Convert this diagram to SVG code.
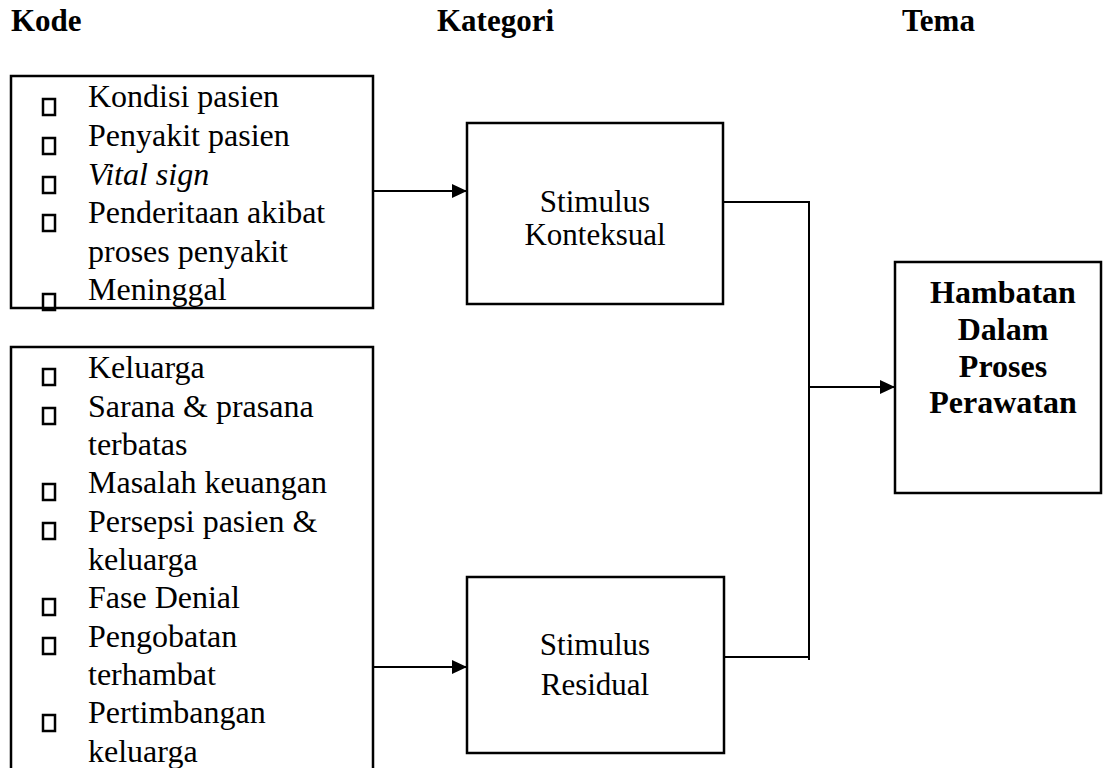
<svg xmlns="http://www.w3.org/2000/svg" width="1105" height="768" viewBox="0 0 1105 768">
<style>
text{font-family:"Liberation Serif","Times New Roman",serif;font-size:31px;fill:#000}
.l{font-size:32px}
.h{font-weight:bold}
.hb{font-weight:bold;font-size:32px}
.it{font-style:italic}
.c{text-anchor:middle}
.box{fill:none;stroke:#000;stroke-width:2.5}
.bul{fill:none;stroke:#000;stroke-width:2.5}
.ln{fill:none;stroke:#000;stroke-width:2}
</style>
<defs>
<marker id="arr" markerWidth="16" markerHeight="14" refX="15" refY="7" orient="auto" markerUnits="userSpaceOnUse">
<path d="M0,0 L15,7 L0,14 Z" fill="#000"/>
</marker>
</defs>
<g id="headings">
<text class="h" x="11" y="31">Kode</text>
<text class="h" x="437" y="31">Kategori</text>
<text class="h" x="902" y="31">Tema</text>
</g>
<g id="kode1">
<rect class="box" x="11" y="76" width="362" height="232"/>
<rect class="bul" x="43" y="99" width="12" height="16"/>
<rect class="bul" x="43" y="138" width="12" height="16"/>
<rect class="bul" x="43" y="177" width="12" height="16"/>
<rect class="bul" x="43" y="215" width="12" height="16"/>
<rect class="bul" x="43" y="294" width="12" height="16"/>
<text class="l" x="88" y="107">Kondisi pasien</text>
<text class="l" x="88" y="146">Penyakit pasien</text>
<text class="l it" x="88" y="185">Vital sign</text>
<text class="l" x="88" y="223">Penderitaan akibat</text>
<text class="l" x="88" y="262">proses penyakit</text>
<text class="l" x="88" y="300">Meninggal</text>
</g>
<g id="kode2">
<path class="box" d="M11,770 V347 H373 V770"/>
<rect class="bul" x="43" y="369" width="12" height="16"/>
<rect class="bul" x="43" y="408" width="12" height="16"/>
<rect class="bul" x="43" y="484" width="12" height="16"/>
<rect class="bul" x="43" y="523" width="12" height="16"/>
<rect class="bul" x="43" y="599" width="12" height="16"/>
<rect class="bul" x="43" y="638" width="12" height="16"/>
<rect class="bul" x="43" y="715" width="12" height="16"/>
<text class="l" x="88" y="378">Keluarga</text>
<text class="l" x="88" y="417">Sarana &amp; prasana</text>
<text class="l" x="88" y="455">terbatas</text>
<text class="l" x="88" y="493">Masalah keuangan</text>
<text class="l" x="88" y="532">Persepsi pasien &amp;</text>
<text class="l" x="88" y="570">keluarga</text>
<text class="l" x="88" y="608">Fase Denial</text>
<text class="l" x="88" y="647">Pengobatan</text>
<text class="l" x="88" y="685">terhambat</text>
<text class="l" x="88" y="723">Pertimbangan</text>
<text class="l" x="88" y="762">keluarga</text>
</g>
<g id="konteksual">
<rect class="box" x="467" y="123" width="256" height="181"/>
<text class="c" x="595" y="212">Stimulus</text>
<text class="c" x="595" y="245">Konteksual</text>
</g>
<g id="residual">
<rect class="box" x="467" y="577" width="257" height="176"/>
<text class="c" x="595" y="655">Stimulus</text>
<text class="c" x="595" y="695">Residual</text>
</g>
<g id="tema">
<rect class="box" x="895" y="262" width="206" height="231"/>
<text class="hb c" x="1003" y="303">Hambatan</text>
<text class="hb c" x="1003" y="340">Dalam</text>
<text class="hb c" x="1003" y="377">Proses</text>
<text class="hb c" x="1003" y="413">Perawatan</text>
</g>
<g id="connectors">
<line class="ln" x1="373" y1="191" x2="467" y2="191" marker-end="url(#arr)"/>
<line class="ln" x1="373" y1="667" x2="467" y2="667" marker-end="url(#arr)"/>
<path class="ln" d="M723,202 H809 V660"/>
<line class="ln" x1="724" y1="657" x2="809" y2="657"/>
<line class="ln" x1="809" y1="387" x2="895" y2="387" marker-end="url(#arr)"/>
</g>
</svg>
